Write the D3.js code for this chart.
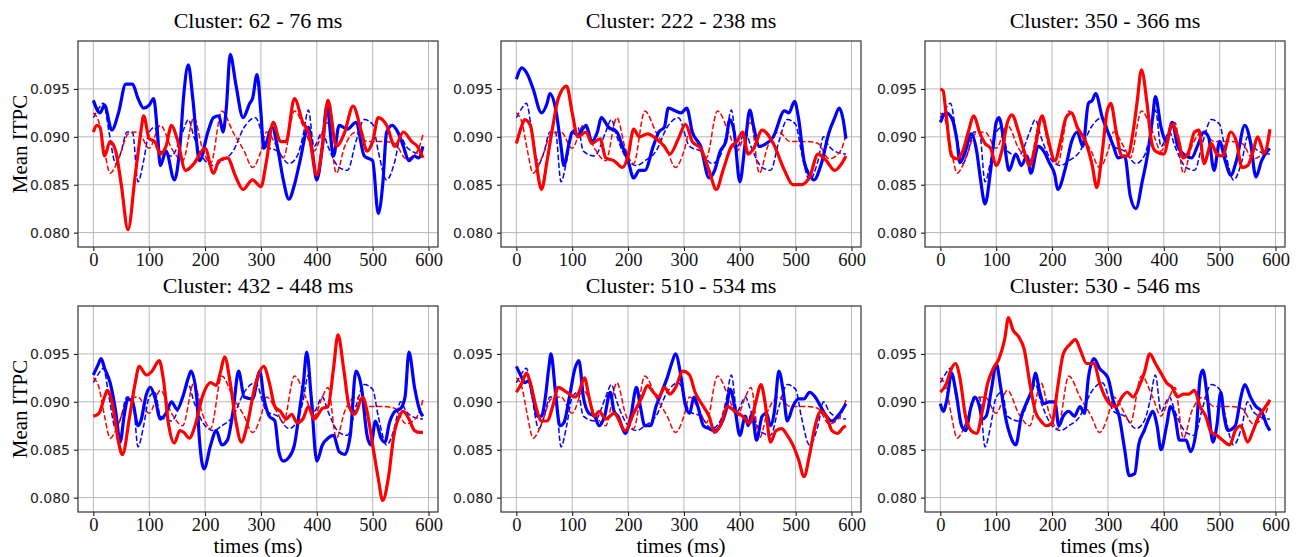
<!DOCTYPE html>
<html>
<head>
<meta charset="utf-8">
<script src="https://cdn.jsdelivr.net/npm/d3@7"></script>
<style>
  body { margin: 0; background: #fff; }
  .ytick text { font-family: "DejaVu Sans", sans-serif; font-size: 14px; fill: #222; }
  .xtick text { font-family: "Liberation Serif", serif; font-size: 18.5px; fill: #111; }
</style>
</head>
<body>
<div id="chart-area"></div>
<script>
// mean ITPC curves, [time (ms), value]
const titles = ["Cluster: 62 - 76 ms", "Cluster: 222 - 238 ms", "Cluster: 350 - 366 ms",
                "Cluster: 432 - 448 ms", "Cluster: 510 - 534 ms", "Cluster: 530 - 546 ms"];
const xTicks = [0, 100, 200, 300, 400, 500, 600];
const yTicks = [0.080, 0.085, 0.090, 0.095];

// baseline curves (same in every panel)
const blueDash = [[0,.092],[10,.093],[18,.0935],[28,.0905],[40,.0872],[50,.0885],[60,.0905],[70,.0905],[80,.0853],[90,.0875],[100,.0905],[110,.091],[120,.0885],[140,.088],[160,.0905],[170,.0918],[180,.09],[200,.0875],[215,.087],[230,.0875],[250,.0885],[270,.091],[290,.092],[310,.089],[330,.0885],[350,.0872],[365,.088],[375,.09],[385,.0928],[395,.089],[410,.0905],[420,.089],[440,.0868],[455,.0865],[470,.0895],[485,.0918],[500,.0913],[510,.0885],[525,.0855],[540,.0875],[550,.09],[560,.089],[570,.0885],[590,.0882]];
const redDash = [[0,.0925],[10,.0915],[20,.0885],[30,.0862],[40,.087],[50,.0885],[62,.0903],[80,.0905],[100,.0888],[120,.0912],[140,.0888],[160,.0875],[180,.092],[195,.0888],[210,.0872],[230,.0927],[250,.0905],[270,.0885],[285,.0868],[300,.0885],[310,.0905],[330,.0888],[340,.0878],[360,.0927],[380,.0905],[395,.0885],[410,.0905],[420,.0915],[435,.0862],[450,.089],[470,.0905],[490,.0895],[520,.0895],[540,.0893],[560,.0877],[580,.0885],[590,.0902]];

const p1Blue = [[0,.0938],[12,.0925],[20,.0933],[33,.0907],[45,.0925],[58,.0955],[70,.0955],[80,.094],[90,.093],[100,.0933],[108,.094],[114,.091],[120,.087],[130,.0885],[145,.0855],[155,.089],[162,.0945],[170,.0975],[178,.094],[190,.0875],[205,.0905],[215,.092],[225,.0922],[232,.0905],[238,.093],[245,.0986],[255,.0955],[268,.092],[280,.0935],[285,.094],[293,.0965],[300,.0925],[305,.0888],[320,.091],[330,.0888],[340,.0855],[350,.0835],[360,.085],[370,.0875],[385,.091],[392,.0885],[400,.0855],[410,.089],[418,.0932],[430,.088],[440,.0912],[455,.0908],[470,.0915],[485,.088],[500,.0875],[510,.082],[518,.085],[525,.0905],[535,.0912],[545,.0905],[555,.089],[565,.0875],[575,.088],[582,.0878],[590,.089]];
const p1Red = [[0,.0905],[6,.0912],[12,.091],[20,.088],[30,.0895],[40,.0885],[50,.085],[62,.0803],[75,.086],[85,.0905],[90,.0922],[100,.0898],[110,.0895],[120,.0882],[130,.089],[140,.0912],[150,.0898],[165,.0865],[180,.0872],[200,.0888],[215,.0862],[225,.0875],[240,.0878],[255,.0858],[268,.0845],[285,.0855],[300,.0848],[310,.0875],[322,.0915],[335,.0895],[345,.0895],[360,.094],[375,.0915],[385,.0905],[400,.086],[410,.089],[420,.0938],[435,.089],[450,.0905],[465,.0932],[480,.0905],[490,.0885],[500,.0895],[510,.092],[525,.0912],[540,.089],[555,.0905],[570,.0895],[580,.089],[590,.0878]];

const p2Blue = [[0,.096],[10,.0972],[20,.0965],[30,.095],[45,.0925],[55,.0935],[60,.0945],[70,.093],[80,.089],[85,.087],[95,.0895],[100,.0905],[110,.0902],[125,.0912],[135,.0895],[145,.0905],[152,.092],[165,.091],[180,.0905],[190,.089],[200,.0875],[210,.0857],[220,.0865],[230,.0865],[245,.089],[255,.0905],[265,.091],[272,.093],[285,.0927],[295,.0925],[305,.093],[315,.0905],[330,.089],[345,.0857],[355,.0865],[365,.0885],[375,.0895],[382,.0918],[390,.0905],[400,.0853],[410,.0895],[418,.0928],[425,.091],[435,.089],[445,.0892],[460,.09],[480,.0927],[488,.0925],[498,.0937],[505,.092],[515,.0875],[525,.086],[533,.0855],[545,.087],[560,.0905],[570,.092],[578,.093],[585,.0918],[590,.0898]];
const p2Red = [[0,.0893],[10,.0912],[15,.0918],[25,.0912],[35,.0875],[45,.0845],[55,.0875],[65,.091],[75,.094],[90,.0953],[100,.0925],[110,.09],[125,.0905],[135,.0893],[150,.0898],[160,.0878],[175,.0875],[190,.0868],[200,.088],[210,.0908],[220,.09],[235,.0903],[250,.0898],[265,.089],[275,.0882],[290,.0898],[303,.0913],[315,.0895],[330,.0888],[345,.0865],[358,.0845],[370,.0865],[385,.089],[395,.0895],[405,.0905],[415,.0882],[425,.0888],[440,.0907],[460,.0893],[480,.0865],[495,.085],[510,.085],[525,.0858],[540,.0882],[555,.0875],[570,.0865],[580,.087],[590,.088]];

const p3Blue = [[0,.0915],[10,.0925],[20,.092],[30,.0895],[35,.0873],[45,.0885],[55,.0903],[65,.0885],[72,.0855],[80,.083],[90,.0865],[100,.0915],[105,.092],[115,.089],[123,.0865],[135,.0882],[145,.087],[155,.088],[162,.0862],[175,.089],[185,.0885],[195,.0873],[205,.086],[210,.0845],[225,.087],[235,.0895],[245,.0905],[255,.089],[265,.0935],[272,.0938],[278,.0945],[290,.092],[300,.0905],[310,.089],[318,.0878],[330,.088],[340,.0838],[350,.0825],[362,.0855],[372,.0885],[380,.092],[385,.0942],[395,.091],[405,.0895],[415,.0915],[425,.089],[440,.088],[450,.0878],[460,.089],[472,.0905],[480,.09],[490,.0865],[500,.0895],[510,.0875],[520,.086],[530,.0875],[545,.0912],[555,.0895],[565,.0858],[575,.0875],[585,.0885],[590,.0888]];
const p3Red = [[0,.095],[5,.0948],[10,.0925],[20,.088],[30,.0877],[40,.0885],[50,.0905],[60,.0922],[70,.0905],[80,.0893],[90,.0888],[100,.087],[110,.0885],[120,.0915],[128,.0923],[140,.0905],[150,.0885],[160,.087],[170,.089],[182,.0922],[192,.09],[205,.0875],[215,.0895],[225,.092],[235,.0925],[245,.091],[260,.0895],[272,.087],[280,.0847],[290,.0885],[298,.0925],[305,.0935],[315,.0905],[325,.088],[335,.088],[345,.0905],[352,.0935],[360,.097],[370,.0935],[378,.0895],[385,.0885],[400,.0882],[415,.0913],[425,.09],[435,.0878],[445,.0885],[455,.0905],[463,.0907],[472,.0872],[485,.0893],[495,.0882],[505,.088],[520,.0905],[530,.0895],[540,.0868],[550,.087],[560,.0885],[568,.09],[580,.0883],[590,.0908]];

const p4Blue = [[0,.0928],[8,.0938],[14,.0945],[20,.0935],[30,.092],[40,.089],[48,.0858],[55,.0885],[62,.0903],[70,.09],[80,.0875],[85,.088],[95,.0908],[102,.0915],[110,.0905],[120,.0882],[130,.0888],[140,.09],[150,.0892],[160,.0905],[170,.0925],[175,.0932],[185,.0905],[190,.086],[198,.083],[210,.0855],[220,.087],[230,.0855],[240,.086],[250,.089],[260,.0932],[270,.0905],[285,.0903],[298,.0932],[305,.0905],[315,.0885],[325,.088],[332,.0848],[340,.0838],[350,.0842],[360,.0855],[370,.0895],[376,.092],[382,.0952],[390,.0905],[400,.0838],[410,.0855],[420,.0862],[430,.0865],[440,.0848],[450,.0845],[460,.0865],[470,.0932],[480,.0915],[490,.0865],[497,.0855],[505,.088],[515,.0862],[522,.0858],[530,.0878],[540,.089],[550,.0893],[558,.0905],[565,.0952],[575,.0915],[585,.089],[590,.0885]];
const p4Red = [[0,.0885],[10,.0888],[20,.0905],[25,.0912],[35,.0895],[45,.0858],[52,.0845],[65,.0885],[75,.092],[82,.0937],[95,.0928],[105,.0932],[118,.0943],[125,.0925],[135,.0875],[145,.0857],[155,.087],[162,.0868],[172,.0862],[182,.0875],[195,.0905],[210,.092],[220,.0917],[228,.0932],[235,.0947],[245,.092],[255,.088],[265,.0858],[275,.0875],[290,.0918],[305,.0937],[315,.092],[325,.0895],[335,.089],[345,.0882],[355,.0887],[365,.0878],[375,.0882],[385,.0895],[395,.0882],[410,.0893],[420,.0895],[430,.0935],[438,.097],[448,.0935],[458,.0895],[468,.0887],[482,.0905],[490,.089],[500,.0855],[510,.082],[518,.0797],[528,.082],[538,.0865],[548,.0885],[555,.089],[565,.0882],[575,.087],[585,.0868],[590,.0868]];

const p5Blue = [[0,.0937],[10,.0925],[15,.092],[22,.0922],[30,.0905],[38,.0885],[45,.0885],[52,.0905],[58,.0935],[62,.095],[70,.091],[78,.0875],[85,.0878],[95,.0905],[105,.0935],[112,.0943],[120,.0905],[130,.0888],[140,.0885],[148,.0875],[158,.0885],[168,.091],[175,.089],[182,.0885],[195,.0867],[205,.0885],[215,.0915],[222,.0895],[230,.0875],[240,.0875],[250,.0895],[260,.091],[270,.0925],[278,.094],[285,.095],[295,.0925],[302,.0898],[310,.0888],[318,.0905],[325,.0895],[335,.0875],[345,.0872],[355,.087],[365,.0875],[375,.089],[383,.0913],[392,.089],[400,.0865],[410,.0885],[415,.0875],[422,.0888],[430,.086],[440,.0885],[448,.0888],[455,.0875],[462,.089],[470,.0932],[478,.091],[485,.088],[495,.0895],[505,.0903],[515,.0903],[525,.091],[535,.0905],[545,.0895],[555,.0885],[565,.088],[575,.0885],[585,.0893],[590,.0898]];
const p5Red = [[0,.091],[10,.092],[18,.093],[25,.092],[35,.0895],[45,.088],[55,.088],[65,.0895],[75,.0915],[90,.091],[105,.0905],[112,.091],[122,.0925],[130,.0905],[140,.0885],[148,.089],[160,.0882],[175,.0888],[195,.087],[210,.0888],[225,.0905],[235,.0917],[245,.091],[255,.0905],[265,.0915],[275,.0908],[285,.0915],[298,.0932],[310,.0928],[320,.091],[335,.0895],[345,.0885],[355,.0868],[365,.0875],[378,.0895],[392,.089],[405,.0885],[418,.0878],[428,.0898],[438,.0918],[445,.09],[455,.0858],[465,.087],[475,.0872],[485,.0865],[495,.0855],[505,.084],[515,.0822],[525,.0845],[535,.0875],[545,.089],[555,.0885],[565,.087],[575,.0867],[585,.0873],[590,.0875]];

const p6Blue = [[0,.0898],[5,.089],[12,.0903],[20,.093],[28,.091],[38,.0875],[45,.087],[55,.0895],[62,.0905],[70,.0895],[75,.0882],[82,.0885],[92,.0915],[100,.094],[108,.0915],[118,.088],[125,.0865],[135,.0855],[145,.0885],[155,.09],[165,.0915],[170,.093],[178,.091],[185,.0898],[195,.09],[205,.09],[212,.0875],[220,.0885],[230,.089],[240,.0885],[250,.0895],[258,.0888],[265,.0925],[275,.0945],[285,.0935],[300,.0925],[310,.09],[320,.0885],[330,.085],[338,.0823],[348,.0825],[355,.0855],[365,.087],[375,.0885],[380,.089],[388,.0875],[395,.085],[405,.0875],[412,.0895],[420,.0885],[428,.086],[440,.086],[448,.0848],[458,.087],[465,.0925],[470,.0933],[478,.0905],[488,.0858],[495,.0875],[502,.091],[508,.0885],[515,.087],[528,.0875],[538,.0905],[545,.0918],[555,.0905],[565,.0895],[575,.089],[585,.0875],[590,.087]];
const p6Red = [[0,.091],[10,.0918],[20,.0935],[27,.094],[35,.0925],[45,.0885],[55,.087],[65,.0867],[75,.089],[85,.092],[95,.0935],[105,.0945],[115,.0965],[122,.0988],[130,.0975],[140,.0968],[150,.0955],[160,.092],[170,.089],[180,.088],[190,.0875],[200,.0878],[210,.0915],[220,.095],[232,.096],[242,.0965],[250,.0955],[262,.094],[275,.094],[285,.092],[295,.0905],[305,.0897],[315,.0895],[325,.0905],[335,.091],[345,.0905],[355,.0915],[365,.093],[375,.095],[385,.094],[395,.093],[405,.092],[415,.0915],[425,.0905],[435,.0908],[445,.0908],[455,.0912],[465,.0895],[475,.0885],[485,.0868],[495,.0865],[505,.086],[518,.0855],[528,.087],[538,.0875],[550,.0858],[560,.087],[570,.0885],[580,.0893],[590,.0902]];

const blueSolid = [p1Blue, p2Blue, p3Blue, p4Blue, p5Blue, p6Blue];
const redSolid = [p1Red, p2Red, p3Red, p4Red, p5Red, p6Red];

const svgWidth = 1303, svgHeight = 557;
const colLeft = [78, 501, 925];
const rowTop = [41, 306];
const pw = 360, ph = 206;

const svg = d3.select("#chart-area").append("svg")
  .attr("width", svgWidth)
  .attr("height", svgHeight);

const x = d3.scaleLinear().domain([-27.5, 617]).range([0, pw]);
const y = d3.scaleLinear().domain([0.0785, 0.1]).range([ph, 0]);

const line = d3.line()
  .x(d => x(d[0]))
  .y(d => y(d[1]))
  .curve(d3.curveMonotoneX);

titles.forEach((title, i) => {
  const col = i % 3, row = Math.floor(i / 3);
  const g = svg.append("g")
    .attr("transform", `translate(${colLeft[col]}, ${rowTop[row]})`);

  // grid
  g.selectAll(".vgrid").data(xTicks).enter().append("line")
    .attr("x1", d => x(d)).attr("x2", d => x(d))
    .attr("y1", 0).attr("y2", ph)
    .attr("stroke", "#b0b0b0").attr("stroke-width", 0.9);
  g.selectAll(".hgrid").data(yTicks).enter().append("line")
    .attr("y1", d => y(d)).attr("y2", d => y(d))
    .attr("x1", 0).attr("x2", pw)
    .attr("stroke", "#b0b0b0").attr("stroke-width", 0.9);

  // axes
  g.append("g")
    .attr("class", "xtick")
    .attr("transform", `translate(0, ${ph})`)
    .call(d3.axisBottom(x).tickValues(xTicks).tickSize(4).tickPadding(2).tickFormat(d3.format("d")))
    .call(a => a.select(".domain").remove());
  g.append("g")
    .attr("class", "ytick")
    .call(d3.axisLeft(y).tickValues(yTicks).tickSize(4).tickPadding(4).tickFormat(d3.format(".3f")))
    .call(a => a.select(".domain").remove());

  // clip
  const clipId = "clip" + i;
  g.append("clipPath").attr("id", clipId)
    .append("rect").attr("width", pw).attr("height", ph);
  const plot = g.append("g").attr("clip-path", `url(#${clipId})`);

  plot.append("path").datum(blueDash)
    .attr("d", line).attr("fill", "none")
    .attr("stroke", "#0000ff").attr("stroke-width", 1.5)
    .attr("stroke-dasharray", "5.5,2.4");
  plot.append("path").datum(redDash)
    .attr("d", line).attr("fill", "none")
    .attr("stroke", "#ff0000").attr("stroke-width", 1.5)
    .attr("stroke-dasharray", "5.5,2.4");
  plot.append("path").datum(blueSolid[i])
    .attr("d", line).attr("fill", "none")
    .attr("stroke", "#0000ff").attr("stroke-width", 3.2)
    .attr("stroke-linejoin", "round");
  plot.append("path").datum(redSolid[i])
    .attr("d", line).attr("fill", "none")
    .attr("stroke", "#ff0000").attr("stroke-width", 3.2)
    .attr("stroke-linejoin", "round");

  // frame
  g.append("rect")
    .attr("width", pw).attr("height", ph)
    .attr("fill", "none").attr("stroke", "#333").attr("stroke-width", 1.2);

  // title
  g.append("text")
    .attr("x", pw / 2).attr("y", -13)
    .attr("text-anchor", "middle")
    .attr("font-family", "Liberation Serif, serif")
    .attr("font-size", "22px")
    .text(title);

  if (col === 0) {
    g.append("text")
      .attr("transform", `translate(-51, ${ph / 2}) rotate(-90)`)
      .attr("text-anchor", "middle")
      .attr("font-family", "Liberation Serif, serif")
      .attr("font-size", "21px")
      .text("Mean ITPC");
  }
  if (row === 1) {
    g.append("text")
      .attr("x", pw / 2).attr("y", ph + 41)
      .attr("text-anchor", "middle")
      .attr("font-family", "Liberation Serif, serif")
      .attr("font-size", "21px")
      .text("times (ms)");
  }
});
</script>
</body>
</html>
